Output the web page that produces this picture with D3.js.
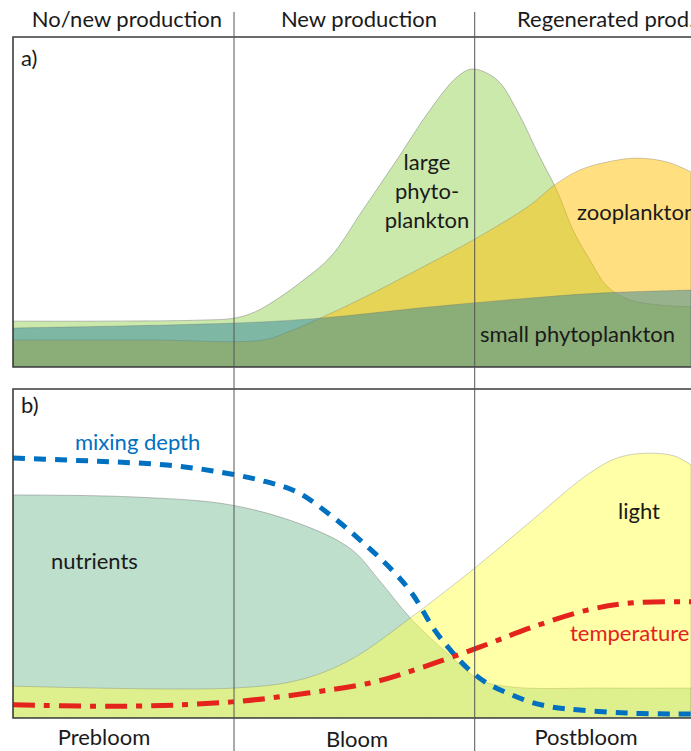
<!DOCTYPE html>
<html>
<head>
<meta charset="utf-8">
<script src="https://cdn.jsdelivr.net/npm/d3@7"></script>
<style>
  html, body { margin: 0; padding: 0; background: #fff; }
  svg { display: block; }
  text { font-family: Lato, "Open Sans", sans-serif; fill: #1a1a1a; font-size: 22px; }
</style>
</head>
<body>
<svg id="chart" width="691" height="751"></svg>
<script>
// Season time axis (arbitrary units, 0 = start of prebloom)
const phaseBounds = [32.6, 68.1];
const productionPhases = ["No/new production", "New production", "Regenerated prod."];
const bloomPhases = ["Prebloom", "Bloom", "Postbloom"];

// Panel a) biomass (relative units) as [time, value]
const largePhyto = [
  [0, 13.9], [12.8, 13.9], [27.6, 14.2], [32.6, 14.8], [35.7, 16.7], [39.4, 21.2],
  [42.3, 25.5], [46.8, 33.3], [51.6, 47.6], [56.6, 62.7], [61.5, 77.9], [65.5, 87.9],
  [67.8, 90.3], [71.4, 87.0], [74.3, 77.9], [77.7, 63.6], [80.2, 53.6], [82.6, 41.5],
  [85.1, 32.4], [87.6, 24.5], [91.0, 20.3], [95.4, 18.8], [100, 18.2]
];
const zooplankton = [
  [0, 8.2], [20.2, 8.2], [36.9, 8.2], [40.9, 10.9], [45.3, 14.8], [51.6, 20.9],
  [59.6, 29.4], [68.4, 39.1], [76.3, 49.1], [79.9, 55.2], [83.6, 59.7], [87.6, 62.1],
  [92.0, 63.3], [96.5, 62.1], [100, 59.1]
];
const smallPhyto = [
  [0, 11.8], [32.6, 13.3], [45.3, 14.8], [61.5, 18.2], [76.3, 20.9], [86.6, 22.4], [100, 23.3]
];

// Panel b) environmental drivers (relative units) as [time, value]
const nutrients = [
  [0, 67.8], [17.6, 67.2], [32.3, 64.7], [43.5, 58.1], [50.0, 51.1], [54.0, 41.9],
  [58.6, 30.4], [64.0, 19.8], [68.9, 11.6], [73.7, 9.4], [86.6, 9.1], [100, 9.1]
];
const light = [
  [0, 9.7], [32.6, 9.1], [42.3, 11.6], [49.7, 17.6], [58.6, 30.4], [68.3, 45.9],
  [76.1, 59.3], [85.1, 74.5], [89.5, 79.3], [94.0, 80.5], [97.6, 79.6], [100, 76.9]
];
const mixingDepth = [
  [0, 79.0], [8.0, 78.4], [15.3, 77.8], [22.7, 76.9], [29.5, 75.1], [36.4, 72.3],
  [41.9, 68.7], [46.8, 61.7], [51.2, 54.1], [55.9, 45.0], [58.8, 38.0], [62.2, 26.7],
  [64.5, 20.7], [67.0, 15.2], [69.9, 10.6], [72.9, 7.6], [76.3, 4.9], [79.6, 3.3],
  [83.6, 2.4], [90.6, 1.5], [97.3, 1.2], [100, 1.2]
];
const temperature = [
  [0, 4.0], [17.6, 3.6], [32.3, 4.9], [43.5, 7.6], [53.2, 10.9], [60.5, 15.5],
  [68.9, 21.6], [76.3, 27.4], [84.7, 32.8], [91.4, 35.0], [100, 35.3]
];

const svg = d3.select("#chart");
const W = 691;
const left = 13, right = 691;

const x = d3.scaleLinear().domain([0, 100]).range([left, right]);
const panelA = { top: 37, bottom: 367 };
const panelB = { top: 389, bottom: 718 };
const yA = d3.scaleLinear().domain([0, 100]).range([panelA.bottom, panelA.top]);
const yB = d3.scaleLinear().domain([0, 100]).range([panelB.bottom, panelB.top]);

const curve = d3.curveCatmullRom.alpha(0.5);
function areaFor(y) {
  return d3.area().x(d => x(d[0])).y0(y(0)).y1(d => y(d[1])).curve(curve);
}
function lineFor(y) {
  return d3.line().x(d => x(d[0])).y(d => y(d[1])).curve(curve);
}

const defs = svg.append("defs");
defs.append("clipPath").attr("id", "clipA").append("rect")
  .attr("x", left).attr("y", panelA.top).attr("width", W + 20 - left).attr("height", panelA.bottom - panelA.top);
defs.append("clipPath").attr("id", "clipB").append("rect")
  .attr("x", left).attr("y", panelB.top).attr("width", W + 20 - left).attr("height", panelB.bottom - panelB.top);

const edge = "rgba(110,110,110,0.55)";

// ---- Panel a) plankton ----
const gA = svg.append("g").attr("clip-path", "url(#clipA)");
const aA = areaFor(yA);
gA.append("path").datum(largePhyto).attr("d", aA)
  .attr("fill", "#92d050").attr("fill-opacity", 0.48).attr("stroke", edge).attr("stroke-width", 0.8);
gA.append("path").datum(zooplankton).attr("d", aA)
  .attr("fill", "#ffc000").attr("fill-opacity", 0.5).attr("stroke", edge).attr("stroke-width", 0.6);
gA.append("path").datum(smallPhyto).attr("d", aA)
  .attr("fill", "#31859c").attr("fill-opacity", 0.5).attr("stroke", edge).attr("stroke-width", 0.6);

// ---- Panel b) environment ----
const gB = svg.append("g").attr("clip-path", "url(#clipB)");
const aB = areaFor(yB);
gB.append("path").datum(nutrients).attr("d", aB)
  .attr("fill", "#bddfcb").attr("stroke", edge).attr("stroke-width", 0.8);
gB.append("path").datum(light).attr("d", aB)
  .attr("fill", "#ffff50").attr("fill-opacity", 0.5).attr("stroke", edge).attr("stroke-width", 0.6);

// Panel frames (open to the right)
[panelA, panelB].forEach(p => {
  svg.append("path")
    .attr("d", `M${W + 10},${p.top}H${left}V${p.bottom}H${W + 10}`)
    .attr("fill", "none").attr("stroke", "#3c3c3c").attr("stroke-width", 1.6);
});

// Phase boundaries
svg.selectAll("line.phase").data(phaseBounds).join("line")
  .attr("class", "phase")
  .attr("x1", d => x(d)).attr("x2", d => x(d))
  .attr("y1", 12).attr("y2", 751)
  .attr("stroke", "#555").attr("stroke-width", 1);

// Driver lines
const lB = lineFor(yB);
gB.append("path").datum(mixingDepth).attr("d", lB)
  .attr("fill", "none").attr("stroke", "#0070c0").attr("stroke-width", 5)
  .attr("stroke-dasharray", "12 9");
gB.append("path").datum(temperature).attr("d", lB)
  .attr("fill", "none").attr("stroke", "#e3231c").attr("stroke-width", 5)
  .attr("stroke-dasharray", "22 9 6 9");

// Column headings
const headX = [127, 359, 517];
const headAnchor = ["middle", "middle", "start"];
svg.selectAll("text.head").data(productionPhases).join("text")
  .attr("class", "head")
  .attr("x", (d, i) => headX[i]).attr("y", 27)
  .attr("text-anchor", (d, i) => headAnchor[i])
  .text(d => d);

const footX = [104, 357, 586];
const footY = [745, 747, 745];
svg.selectAll("text.foot").data(bloomPhases).join("text")
  .attr("class", "foot")
  .attr("x", (d, i) => footX[i]).attr("y", (d, i) => footY[i])
  .attr("text-anchor", "middle")
  .text(d => d);

// Panel tags
svg.append("text").attr("x", 21).attr("y", 66).text("a)");
svg.append("text").attr("x", 21).attr("y", 413).text("b)");

// Series labels
const lp = svg.append("text").attr("text-anchor", "middle");
["large", "phyto-", "plankton"].forEach((s, i) => {
  lp.append("tspan").attr("x", 427).attr("y", 170 + i * 29).text(s);
});
svg.append("text").attr("x", 577).attr("y", 220).text("zooplankton");
svg.append("text").attr("x", 480).attr("y", 342).text("small phytoplankton");

svg.append("text").attr("x", 75).attr("y", 450).style("fill", "#0070c0").text("mixing depth");
svg.append("text").attr("x", 51).attr("y", 569).text("nutrients");
svg.append("text").attr("x", 639).attr("y", 519).attr("text-anchor", "middle").text("light");
svg.append("text").attr("x", 570).attr("y", 641).style("fill", "#e3231c").text("temperature");
</script>
</body>
</html>
